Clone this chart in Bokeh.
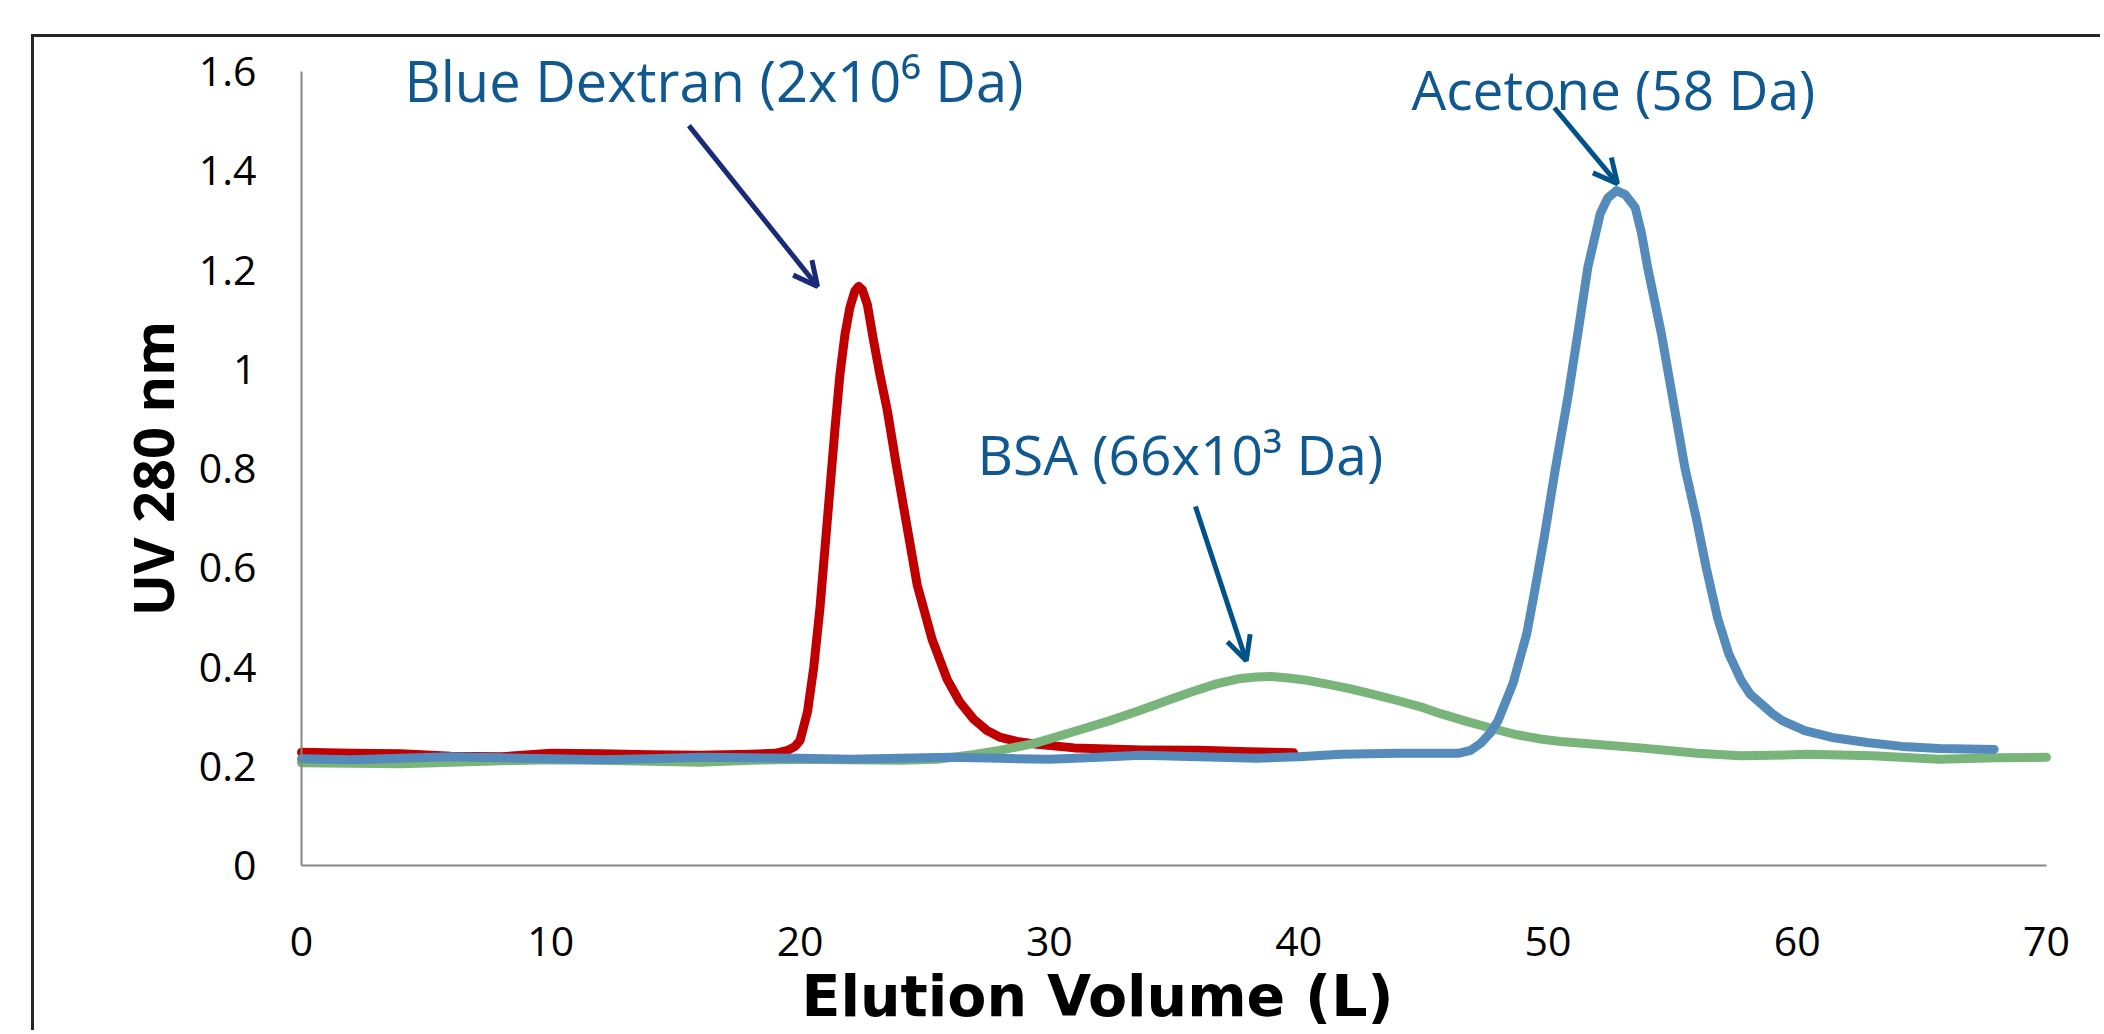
import math
from bokeh.plotting import figure
from bokeh.models import (Label, Arrow, OpenHead, FixedTicker,
                          NumeralTickFormatter, Range1d)
from bokeh.embed import file_html
from bokeh.resources import INLINE

# ---------------- data ----------------
dextran_x = [0, 2, 4, 6, 8, 10, 12, 14, 16, 18, 19, 19.5, 19.8, 20.0, 20.3, 20.55,
             20.8, 21.0, 21.2, 21.4, 21.6, 21.8, 22.0, 22.2, 22.35, 22.5, 22.7, 22.94,
             23.2, 23.5, 23.85, 24.23, 24.7, 25.3, 25.9, 26.4, 26.96, 27.5, 28.04,
             28.7, 29.4, 31, 33.7, 36, 38, 39.8]
dextran_y = [0.228, 0.226, 0.225, 0.220, 0.219, 0.226, 0.225, 0.223, 0.222, 0.224,
             0.226, 0.232, 0.240, 0.252, 0.310, 0.400, 0.520, 0.640, 0.760, 0.880,
             0.990, 1.070, 1.125, 1.158, 1.167, 1.160, 1.130, 1.060, 0.990, 0.917,
             0.810, 0.700, 0.565, 0.455, 0.375, 0.330, 0.295, 0.272, 0.258, 0.250,
             0.245, 0.237, 0.233, 0.232, 0.229, 0.227]

bsa_x = [0, 2, 4, 6, 8, 10, 12, 14, 16, 18, 20, 22, 24, 25.5, 27, 28, 29.4, 31, 32.5,
         33.65, 34.7, 35.66, 36.7, 37.67, 38.3, 38.9, 39.6, 40.35, 41.2, 42, 43, 44,
         45, 45.7, 46.7, 47.7, 48.7, 49.7, 50.5, 51.5, 53.7, 56, 57.7, 59, 60.4, 63,
         65.7, 68, 70]
bsa_y = [0.207, 0.206, 0.205, 0.208, 0.211, 0.213, 0.212, 0.210, 0.208, 0.212, 0.214,
         0.213, 0.212, 0.214, 0.224, 0.232, 0.246, 0.270, 0.293, 0.313, 0.332, 0.349,
         0.366, 0.377, 0.380, 0.381, 0.378, 0.373, 0.365, 0.357, 0.345, 0.332, 0.318,
         0.306, 0.291, 0.277, 0.264, 0.255, 0.250, 0.246, 0.237, 0.226, 0.221, 0.222,
         0.224, 0.221, 0.214, 0.217, 0.218]

acetone_x = [0, 2, 4, 6, 8, 10, 12, 14, 16, 18, 20, 22, 24, 26, 28, 30, 32, 33.65, 36,
             38.3, 40, 41.7, 44, 46.4, 46.9, 47.3, 47.7, 48.0, 48.6, 49.15, 49.4, 49.85,
             50.3, 50.8, 51.2, 51.6, 52.1, 52.4, 52.75, 53.1, 53.5, 53.75, 54.0, 54.55,
             55.0, 55.5, 55.95, 56.35, 56.8, 57.25, 57.75, 58.1, 59.0, 59.4, 60.3, 61.4,
             62.8, 64.2, 65.7, 67.9]
acetone_y = [0.215, 0.213, 0.216, 0.219, 0.217, 0.215, 0.213, 0.215, 0.218, 0.217,
             0.216, 0.214, 0.216, 0.218, 0.216, 0.214, 0.218, 0.222, 0.219, 0.216,
             0.219, 0.224, 0.226, 0.226, 0.232, 0.246, 0.268, 0.292, 0.367, 0.467,
             0.534, 0.661, 0.800, 0.943, 1.072, 1.205, 1.314, 1.345, 1.360, 1.352,
             1.326, 1.275, 1.205, 1.072, 0.943, 0.800, 0.700, 0.600, 0.500, 0.427,
             0.373, 0.346, 0.306, 0.292, 0.272, 0.258, 0.248, 0.240, 0.236, 0.234]

x_ticks = [0, 10, 20, 30, 40, 50, 60, 70]
y_ticks = [0, 0.2, 0.4, 0.6, 0.8, 1.0, 1.2, 1.4, 1.6]

dextran_label = "Blue Dextran (2x10\u2076 Da)"
bsa_label = "BSA (66x10\u00b3 Da)"
acetone_label = "Acetone (58 Da)"
x_title = "Elution Volume (L)"
y_title = "UV 280 nm"

# ---------------- geometry (canvas px) ----------------
W, H = 2100, 1030
X0_PX, X70_PX = 301, 2046      # canvas x of x=0 and x=70
Y0_PX, Y16_PX = 865, 71        # canvas y of y=0 and y=1.6
sx = (X70_PX - X0_PX) / 70.0
sy = (Y0_PX - Y16_PX) / 1.6
x_start = -X0_PX / sx
x_end = 70 + (W - X70_PX) / sx
y_end = 1.6 + Y16_PX / sy
y_start = -(H - Y0_PX) / sy


def px_x(px):
    return (px - X0_PX) / sx


def px_y(py):
    return (Y0_PX - py) / sy


FONT = "Open Sans"
p = figure(width=W, height=H, output_backend="svg", toolbar_location=None,
           x_range=Range1d(x_start, x_end), y_range=Range1d(y_start, y_end),
           min_border_left=0, min_border_right=0, min_border_top=0,
           min_border_bottom=0)
p.outline_line_color = None
p.xgrid.visible = False
p.ygrid.visible = False
p.background_fill_color = "white"
p.border_fill_color = "white"

for ax in (p.xaxis[0], p.yaxis[0]):
    ax.fixed_location = 0
    ax.axis_line_color = "#868686"
    ax.axis_line_width = 2
    ax.major_tick_out = 0
    ax.major_tick_in = 0
    ax.minor_tick_out = 0
    ax.minor_tick_in = 0
    ax.major_label_text_font = FONT
    ax.major_label_text_font_size = "41px"
    ax.major_label_text_color = "black"

p.xaxis[0].bounds = (0, 70)
p.yaxis[0].bounds = (0, 1.6)
p.xaxis[0].ticker = FixedTicker(ticks=x_ticks)
p.yaxis[0].ticker = FixedTicker(ticks=y_ticks)
p.yaxis[0].formatter = NumeralTickFormatter(format="0.[0]")
p.xaxis[0].formatter = NumeralTickFormatter(format="0")
p.yaxis[0].major_label_standoff = 45
p.xaxis[0].major_label_standoff = 61

# chart-area border: top and left edges (it runs on past the picture's edges)
bx = px_x(32)
by = px_y(35)
p.line([x_end + 1, bx, bx], [by, by, y_start - 1], line_color="#262626",
       line_width=3, line_join="miter")

# curves
p.line(dextran_x, dextran_y, line_color="#C00000", line_width=9,
       line_cap="round", line_join="round")
p.line(bsa_x, bsa_y, line_color="#79B57A", line_width=9,
       line_cap="round", line_join="round")
p.line(acetone_x, acetone_y, line_color="#558BBB", line_width=9,
       line_cap="round", line_join="round")

# annotations (anchor shifted so the text baseline lands where the reference has it)
TXT = "#0F5890"
SHIFT = 0.4
for txt, x, base, fs in [(dextran_label, 404, 102, 56),
                         (acetone_label, 1411, 110, 55),
                         (bsa_label, 977, 475, 55)]:
    p.add_layout(Label(x=px_x(x), y=px_y(base - SHIFT * fs), text=txt,
                       text_font=FONT, text_font_size=f"{fs}px",
                       text_color=TXT, text_align="left",
                       text_baseline="alphabetic"))

for (xs, ys, xe, ye, col) in [(15.54, 1.491, 20.7, 1.167, "#1B2A78"),
                              (35.86, 0.7234, 37.9, 0.4126, "#00538A"),
                              (50.26, 1.527, 52.79, 1.374, "#00538A")]:
    p.add_layout(Arrow(x_start=xs, y_start=ys, x_end=xe, y_end=ye,
                       line_color=col, line_width=5,
                       end=OpenHead(size=24, line_color=col, line_width=5)))

# axis titles
p.add_layout(Label(x=px_x(1097), y=px_y(1013 - 18), text=x_title,
                   text_font="DejaVu Sans", text_font_size="57px",
                   text_font_style="bold", text_color="black", text_align="center",
                   text_baseline="alphabetic"))
p.add_layout(Label(x=px_x(174 - SHIFT * 56), y=px_y(468), text=y_title,
                   text_font=FONT, angle=math.pi / 2, text_font_size="56px",
                   text_font_style="bold", text_color="black",
                   text_align="center", text_baseline="alphabetic"))

open("out.html", "w").write(file_html(p, INLINE))
